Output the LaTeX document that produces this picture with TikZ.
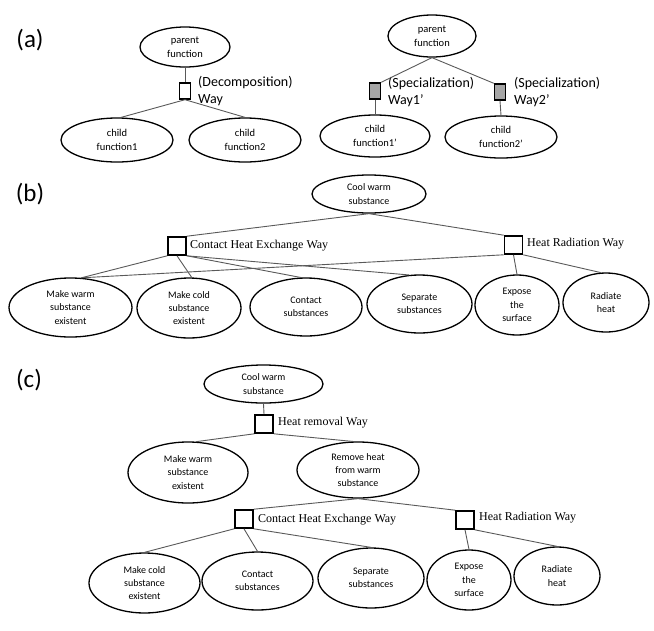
\documentclass[tikz,border=0pt]{standalone}
\usepackage{fontspec}
\setmainfont{Carlito}
\newfontfamily\serifway{Liberation Serif}
\usetikzlibrary{shapes.geometric}
\tikzset{
 ell/.style={draw, ellipse, line width=1.3pt, inner sep=0pt, align=center, font=\fontsize{10}{13.3}\selectfont},
 ella/.style={ell, font=\fontsize{10.5}{14}\selectfont},
 wbox/.style={draw, line width=1.6pt, inner sep=0pt, minimum width=18pt, minimum height=18pt},
 abox/.style={draw, line width=1.4pt, inner sep=0pt, minimum width=11pt, minimum height=16pt},
 gbox/.style={abox, fill=gray!70},
 conn/.style={draw=black!65, line width=0.9pt},
 lbl/.style={anchor=west, inner sep=0pt, font=\serifway\fontsize{12}{14}\selectfont},
 albl/.style={anchor=west, inner sep=0pt, align=left, font=\fontsize{14}{16.5}\selectfont},
 panel/.style={font=\fontsize{25}{30}\selectfont, inner sep=0pt},
}
\begin{document}
\begin{tikzpicture}[x=1pt,y=-1pt]
\useasboundingbox (0,0) rectangle (654,630);
% ---------------- (a)
\node[panel] (la) at (30,40) {(a)};
\node[ella, minimum width=90pt, minimum height=40pt] (pa) at (185,47) {parent\\function};
\node[abox] (da) at (185,91) {};
\node[albl] (dal) at (198,91) {(Decomposition)\\Way};
\node[ella, minimum width=112pt, minimum height=44pt] (ca1) at (117,140) {child\\function1};
\node[ella, minimum width=112pt, minimum height=44pt] (ca2) at (245,140) {child\\function2};
\draw[conn] (pa.south) -- (da.north);
\draw[conn] (da.south) -- (ca1.80);
\draw[conn] (da.south) -- (ca2.north);

\node[ella, minimum width=88pt, minimum height=42pt] (pb) at (432,36) {parent\\function};
\node[gbox] (sb1) at (375,91) {};
\node[gbox] (sb2) at (500,92) {};
\node[albl] (sl1) at (388,92) {(Specialization)\\Way1{\char"27}};
\node[albl] (sl2) at (514,92) {(Specialization)\\Way2{\char"27}};
\node[ella, minimum width=110pt, minimum height=42pt] (cb1) at (375,136) {child\\function1{\char"27}};
\node[ella, minimum width=112pt, minimum height=42pt] (cb2) at (501,137) {child\\function2{\char"27}};
\draw[conn] (pb.south) -- (sb1.north east);
\draw[conn] (pb.south) -- (sb2.north west);
\draw[conn] (sb1.south) -- (cb1.north);
\draw[conn] (sb2.south) -- (cb2.north);

% ---------------- (b)
\node[panel] (lb) at (30,194) {(b)};
\node[ell, minimum width=114pt, minimum height=38pt] (cwb) at (369,194) {Cool warm\\substance};
\node[wbox] (bche) at (177,246) {};
\node[wbox] (bhr) at (513.5,245) {};
\node[lbl] (lche) at (190,246) {Contact Heat Exchange Way};
\node[lbl] (lhr) at (527,244) {Heat Radiation Way};
\node[ell, minimum width=123pt, minimum height=59pt] (mw) at (70.5,307.5) {Make warm\\substance\\existent};
\node[ell, minimum width=104pt, minimum height=60pt] (mc) at (189,308) {Make cold\\substance\\existent};
\node[ell, minimum width=112pt, minimum height=58pt] (cs) at (306,307) {Contact\\substances};
\node[ell, minimum width=105pt, minimum height=58pt] (ss) at (419.5,304) {Separate\\substances};
\node[ell, minimum width=84pt, minimum height=60pt] (ex) at (517,305) {Expose\\the\\surface};
\node[ell, minimum width=86pt, minimum height=59pt] (rh) at (606,302.5) {Radiate\\heat};
\draw[conn] (cwb.south) -- (bche.north east);
\draw[conn] (cwb.south) -- (bhr.north west);
\draw[conn] (bche.south west) -- (mw.70);
\draw[conn] (bche.south) -- (mc.85);
\draw[conn] (bche.south east) -- (cs.100);
\draw[conn] (bche.south east) -- (ss.110);
\draw[conn] (bhr.south west) -- (mw.70);
\draw[conn] (bhr.south) -- (ex.north);
\draw[conn] (bhr.south east) -- (rh.100);

% ---------------- (c)
\node[panel] (lc) at (29,380) {(c)};
\node[ell, minimum width=119pt, minimum height=38pt] (cwc) at (263.5,384) {Cool warm\\substance};
\node[wbox] (brm) at (264,424) {};
\node[lbl] (lrm) at (278,423) {Heat removal Way};
\node[ell, minimum width=120pt, minimum height=61pt] (mw2) at (188,472.5) {Make warm\\substance\\existent};
\node[ell, minimum width=122pt, minimum height=56pt] (rm) at (358,470) {Remove heat\\from warm\\substance};
\node[wbox] (bche2) at (244,519) {};
\node[wbox] (bhr2) at (465,520) {};
\node[lbl] (lche2) at (258,520) {Contact Heat Exchange Way};
\node[lbl] (lhr2) at (479,518) {Heat Radiation Way};
\node[ell, minimum width=111pt, minimum height=60pt] (mc2) at (144.5,583) {Make cold\\substance\\existent};
\node[ell, minimum width=111pt, minimum height=58pt] (cs2) at (257.5,581) {Contact\\substances};
\node[ell, minimum width=106pt, minimum height=60pt] (ss2) at (371,578) {Separate\\substances};
\node[ell, minimum width=84pt, minimum height=60pt] (ex2) at (469,580) {Expose\\the\\surface};
\node[ell, minimum width=86pt, minimum height=58pt] (rh2) at (557,576) {Radiate\\heat};
\draw[conn] (cwc.south) -- (brm.north);
\draw[conn] (brm.south west) -- (mw2.75);
\draw[conn] (brm.south east) -- (rm.100);
\draw[conn] (rm.south) -- (bche2.north east);
\draw[conn] (rm.south) -- (bhr2.north west);
\draw[conn] (bche2.south west) -- (mc2.north);
\draw[conn] (bche2.south) -- (cs2.north);
\draw[conn] (bche2.south east) -- (ss2.north);
\draw[conn] (bhr2.south) -- (ex2.north);
\draw[conn] (bhr2.south east) -- (rh2.north);
\end{tikzpicture}
\end{document}
